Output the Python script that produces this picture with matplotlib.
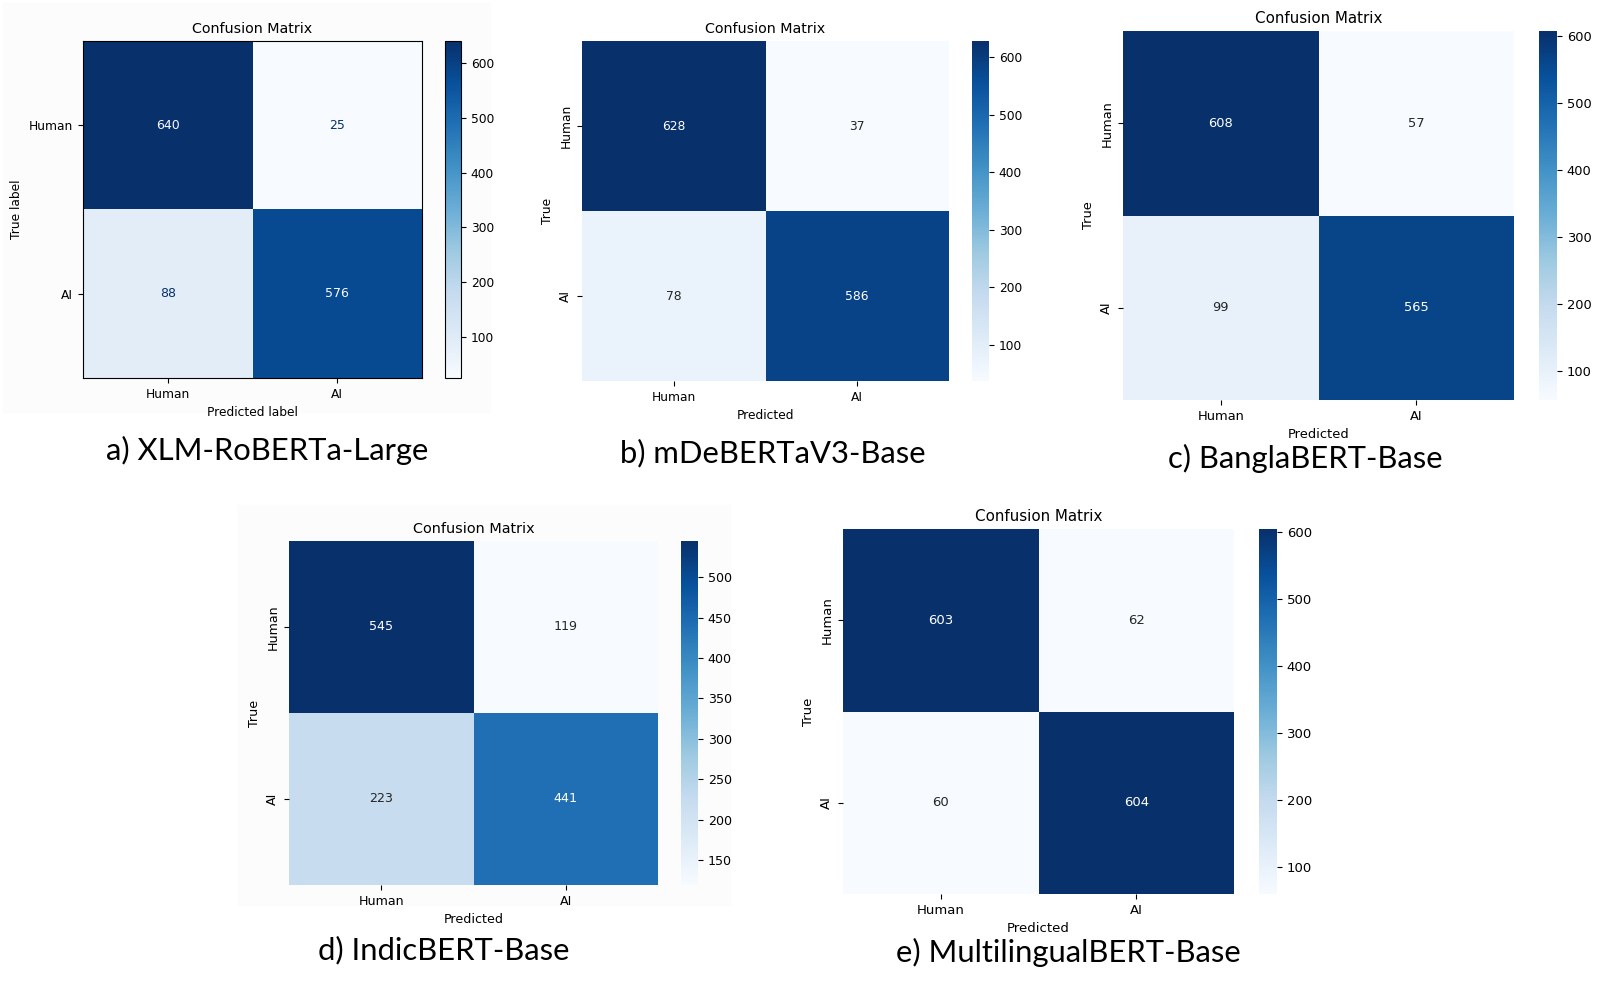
import numpy as np
import matplotlib.pyplot as plt
from matplotlib.patches import Rectangle
import seaborn as sns

W, H = 1609, 999

labels = ['Human', 'AI']

# confusion matrices (rows = true, cols = predicted)
cm_xlmr = [[640, 25], [88, 576]]
cm_mdeberta = [[628, 37], [78, 586]]
cm_bangla = [[608, 57], [99, 565]]
cm_indic = [[545, 119], [223, 441]]
cm_mbert = [[603, 62], [60, 604]]

cbar_ticks_100 = [100, 200, 300, 400, 500, 600]
cbar_ticks_50 = [150, 200, 250, 300, 350, 400, 450, 500]

captions = ['a) XLM-RoBERTa-Large', 'b) mDeBERTaV3-Base', 'c) BanglaBERT-Base',
            'd) IndicBERT-Base', 'e) MultilingualBERT-Base']

fig = plt.figure(figsize=(W / 100, H / 100), dpi=100)


def px_axes(x0, y0, x1, y1):
    # axes from pixel box (top-left origin)
    return fig.add_axes([x0 / W, 1 - y1 / H, (x1 - x0) / W, (y1 - y0) / H])


def px_bg(x0, y0, x1, y1, color='#fcfcfc'):
    fig.add_artist(Rectangle((x0 / W, 1 - y1 / H), (x1 - x0) / W, (y1 - y0) / H,
                             transform=fig.transFigure, color=color, zorder=0))


# faint screenshot backgrounds
px_bg(3, 3, 490, 412)
px_bg(238, 505, 730, 905)

# a) sklearn style display
ax = px_axes(83, 41, 422, 378)
cax = px_axes(445, 41, 461, 378)
cm = np.array(cm_xlmr)
im = ax.imshow(cm, cmap='Blues', aspect='auto', vmin=cm.min(), vmax=cm.max())
cbar = fig.colorbar(im, cax=cax)
cbar.set_ticks(cbar_ticks_100)
cax.tick_params(labelsize=8.8)
thresh = (cm.max() + cm.min()) / 2
cmap = plt.get_cmap('Blues')
for i in range(2):
    for j in range(2):
        col = cmap(0.0) if cm[i, j] > thresh else cmap(1.0)
        ax.text(j, i, str(cm[i, j]), ha='center', va='center', color=col, fontsize=9)
ax.set_xticks([0, 1], labels)
ax.set_yticks([0, 1], labels)
ax.tick_params(labelsize=8.8)
ax.set_xlabel('Predicted label', fontsize=8.8)
ax.set_ylabel('True label', fontsize=8.8)
ax.set_title('Confusion Matrix', fontsize=10.3)


def sns_panel(data, box, cbox, ticks, fs, tfs):
    ax = px_axes(*box)
    cax = px_axes(*cbox)
    sns.heatmap(np.array(data), annot=True, fmt='d', cmap='Blues',
                xticklabels=labels, yticklabels=labels, ax=ax, cbar_ax=cax,
                annot_kws={'size': fs})
    ax.set_yticklabels(labels, rotation=90, va='center')
    ax.tick_params(labelsize=fs)
    ax.set_xlabel('Predicted', fontsize=fs)
    ax.set_ylabel('True', fontsize=fs)
    ax.set_title('Confusion Matrix', fontsize=tfs)
    cax.set_yticks(ticks)
    cax.tick_params(labelsize=fs)


sns_panel(cm_mdeberta, (582, 41, 949, 381), (972, 41, 989, 381), cbar_ticks_100, 8.8, 10.3)
sns_panel(cm_bangla, (1123, 31, 1514, 400), (1539, 31, 1557, 400), cbar_ticks_100, 9.4, 10.9)
sns_panel(cm_indic, (289, 541, 658, 885), (681, 541, 698, 885), cbar_ticks_50, 9.1, 10.4)
sns_panel(cm_mbert, (843, 529, 1234, 894), (1259, 529, 1277, 894), cbar_ticks_100, 9.5, 10.9)

# captions under each panel
cap_pos = [(267, 450), (773, 453), (1305, 458), (444, 950), (1068, 952)]
for txt, (x, y) in zip(captions, cap_pos):
    fig.text(x / W, 1 - y / H, txt, ha='center', va='center', fontsize=22.3, family='Lato')

fig.savefig('out.png', dpi=100)
